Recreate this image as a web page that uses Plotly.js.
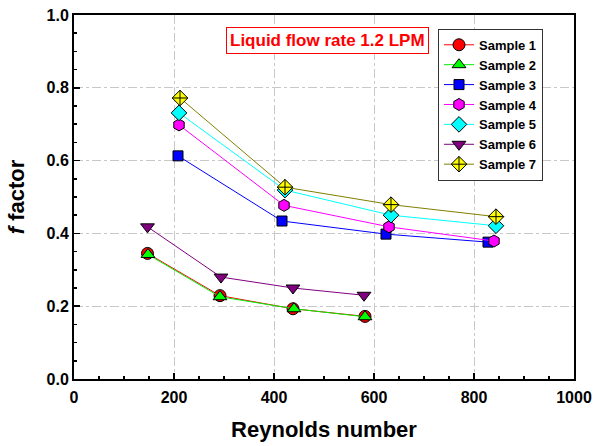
<!DOCTYPE html>
<html><head><meta charset="utf-8">
<script src="https://cdn.plot.ly/plotly-3.0.1.min.js"></script>
<style>html,body{margin:0;padding:0;background:#fff}</style>
</head><body>
<div id="chart" style="width:595px;height:446px"></div>
<script>
const names = ["Sample 1","Sample 2","Sample 3","Sample 4","Sample 5","Sample 6","Sample 7"];
const re1 = [147, 292, 438, 582];
const f1 = [0.345, 0.229, 0.193, 0.172];
const re2 = [148, 292, 440, 582];
const f2 = [0.342, 0.226, 0.193, 0.171];
const re3 = [208, 416, 624, 828];
const f3 = [0.613, 0.434, 0.398, 0.376];
const re4 = [210, 420, 630, 840];
const f4 = [0.698, 0.477, 0.418, 0.379];
const re5 = [210, 422, 634, 844];
const f5 = [0.731, 0.519, 0.45, 0.421];
const re6 = [147, 294, 438, 580];
const f6 = [0.418, 0.28, 0.25, 0.23];
const re7 = [212, 422, 634, 844];
const f7 = [0.772, 0.527, 0.479, 0.446];
const lineColors = ["#ff0000","#00ee00","#0000ff","#ff00ff","#00ffff","#800080","#808000"];
const fillColors = ["#ff0000","#00ff00","#0000ff","#ff00ff","#00ffff","#800080","#ffff00"];
const symbols = ["circle","triangle-up","square","hexagon","diamond","triangle-down","diamond-cross"];
const xs = [re1,re2,re3,re4,re5,re6,re7];
const ys = [f1,f2,f3,f4,f5,f6,f7];
const FONT = 'Liberation Sans, Arial, sans-serif';

const traces = names.map((n,i)=>({
  x: xs[i], y: ys[i], name: n, type: 'scatter', mode: 'lines+markers',
  line: {color: lineColors[i], width: 1},
  marker: {symbol: symbols[i], size: i===2?10:12, color: fillColors[i], line: {color: '#000', width: 1}}
}));

const axisCommon = {
  showline: true, linecolor: '#000', linewidth: 2, mirror: true,
  ticks: 'inside', ticklen: 6, tickwidth: 1.5, tickcolor: '#000',
  showgrid: true, gridcolor: '#c8c8c8', griddash: 'dashdot', gridwidth: 1,
  zeroline: false,
  tickfont: {family: FONT, size: 16, color: '#000', weight: 'bold'}
};

const layout = {
  width: 595, height: 446,
  margin: {l: 74, r: 21, t: 15, b: 67},
  paper_bgcolor: '#fff', plot_bgcolor: '#fff',
  showlegend: true,
  legend: {x: 0.728, y: 0.962, xanchor: 'left', yanchor: 'top',
    bgcolor: '#fff', bordercolor: '#333', borderwidth: 1,
    font: {family: FONT, size: 13, color: '#000', weight: 'bold'},
    tracegroupgap: 0, itemwidth: 30},
  xaxis: Object.assign({}, axisCommon, {
    range: [0, 1000], dtick: 200, tick0: 0, ticklabelstandoff: 3,
    minor: {dtick: 50, ticks: 'inside', ticklen: 3, tickcolor: '#000', showgrid: false},
    title: {text: 'Reynolds number', standoff: 16,
      font: {family: FONT, size: 22, color: '#000', weight: 'bold'}}
  }),
  yaxis: Object.assign({}, axisCommon, {
    range: [0, 1.0], dtick: 0.2, tick0: 0, tickformat: '.1f',
    minor: {dtick: 0.05, ticks: 'inside', ticklen: 3, tickcolor: '#000', showgrid: false},
    title: {text: '<i>f</i> factor', standoff: 16,
      font: {family: FONT, size: 22, color: '#000', weight: 'bold'}}
  }),
  annotations: [{
    xref: 'x', yref: 'y', x: 506, y: 0.93, showarrow: false,
    text: 'Liquid flow rate 1.2 LPM',
    font: {family: FONT, size: 17, color: '#ff0000', weight: 'bold'},
    bordercolor: '#ff0000', borderwidth: 1, borderpad: 3, bgcolor: '#fff'
  }]
};
Plotly.newPlot('chart', traces, layout, {displayModeBar: false, staticPlot: true});
</script>
</body></html>
